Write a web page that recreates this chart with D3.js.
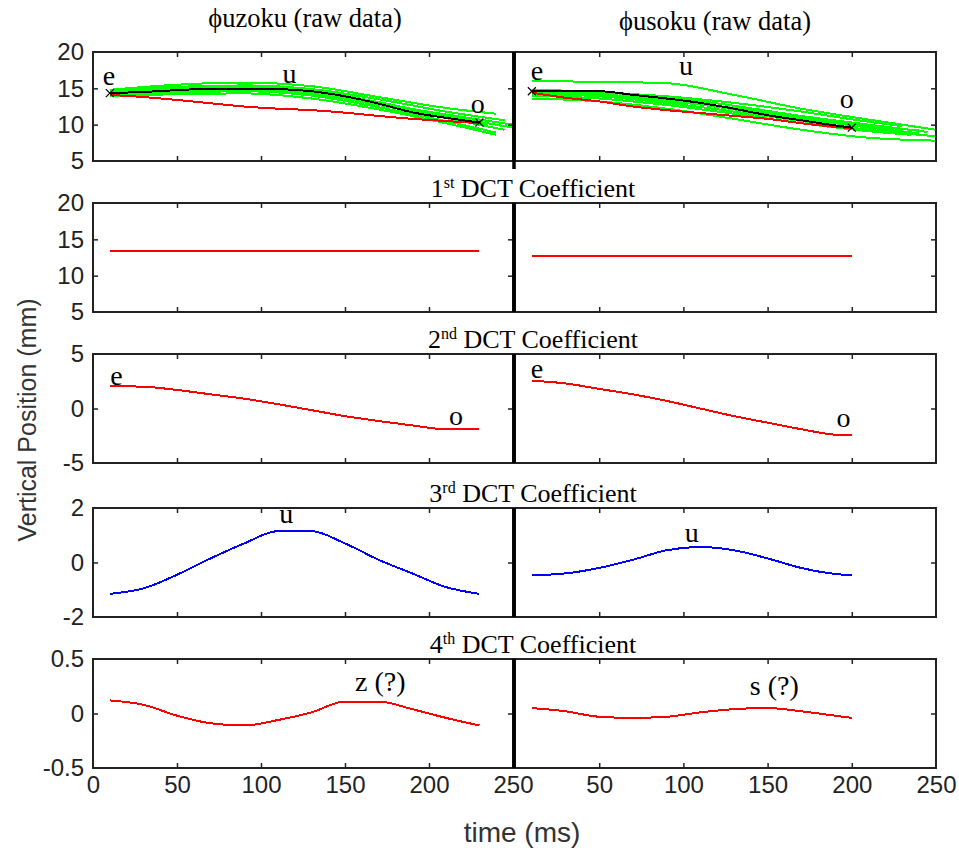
<!DOCTYPE html>
<html>
<head>
<meta charset="utf-8">
<script src="https://cdn.jsdelivr.net/npm/d3@7"></script>
<style>
  body { margin: 0; background: #fff; }
  svg { display: block; }
</style>
</head>
<body>
<script>
// --- datos: tiempos (ms) ---
const tUzoku = [10, 30, 50, 70, 90, 110, 130, 150, 170, 190, 210, 230];
const tUsoku = [10, 30, 50, 70, 90, 110, 130, 150, 170, 190, 200];
const tTrial = [10, 50, 90, 130, 170, 210];

// raw data, media (negro) y reconstruccion (rojo)
const uzokuMean = [14.35, 14.5, 14.75, 14.95, 14.95, 14.9, 14.6, 13.9, 12.9, 11.7, 10.95, 10.3];
const uzokuRecon = [14.1, 13.8, 13.4, 12.95, 12.5, 12.2, 12.0, 11.65, 11.2, 10.8, 10.5, 10.2];
const usokuMean = [14.6, 14.6, 14.6, 14.1, 13.6, 13.0, 12.2, 11.3, 10.6, 9.9, 9.6];
const usokuRecon = [14.4, 13.7, 13.2, 12.5, 12.0, 11.6, 11.2, 10.8, 10.2, 9.7, 9.5];

// ensayos individuales (verde): valores en tTrial + punto final [t, v]
const uzokuTrials = [
  { v: [14.8, 15.5, 15.8, 15.3, 13.8, 12.3], end: [240, 11.5] },
  { v: [14.6, 15.2, 15.4, 14.9, 13.5, 11.8], end: [245, 10.6] },
  { v: [14.4, 15.0, 15.2, 14.7, 13.1, 11.2], end: [250, 9.6] },
  { v: [14.2, 14.7, 14.9, 14.3, 12.7, 10.9], end: [245, 9.3] },
  { v: [14.0, 14.4, 14.6, 14.0, 12.4, 10.5], end: [240, 8.9] },
  { v: [13.9, 14.2, 14.3, 13.6, 12.1, 10.2], end: [240, 8.6] },
  { v: [14.5, 14.9, 15.0, 14.5, 13.0, 11.0], end: [235, 10.0] },
  { v: [14.3, 14.6, 14.8, 14.2, 12.9, 11.4], end: [250, 10.0] }
];
const usokuTrials = [
  { v: [16.0, 15.9, 15.7, 14.1, 12.2, 10.7], end: [250, 9.3] },
  { v: [14.8, 14.5, 13.8, 12.6, 11.2, 10.0], end: [245, 9.0] },
  { v: [14.5, 14.2, 13.4, 12.1, 10.8, 9.6], end: [240, 8.8] },
  { v: [14.2, 13.9, 13.0, 11.8, 10.5, 9.3], end: [250, 8.4] },
  { v: [14.0, 13.6, 12.7, 11.5, 10.2, 9.1], end: [235, 8.6] },
  { v: [13.6, 13.2, 12.2, 10.8, 9.3, 8.2], end: [250, 7.8] },
  { v: [14.6, 14.4, 13.9, 13.0, 11.8, 10.4], end: [230, 9.8] },
  { v: [14.4, 14.0, 13.2, 12.3, 11.0, 9.8], end: [240, 9.2] }
];

// coeficientes DCT
const uzokuDct1 = [13.45, 13.45];
const usokuDct1 = [12.67, 12.67];
const uzokuDct2 = [2.05, 2.0, 1.7, 1.3, 0.9, 0.4, -0.15, -0.7, -1.15, -1.55, -1.9, -1.9];
const usokuDct2 = [2.55, 2.3, 1.8, 1.3, 0.7, 0.0, -0.7, -1.3, -1.9, -2.4, -2.45];
const uzokuDct3 = [-1.15, -0.95, -0.45, 0.15, 0.7, 1.15, 1.15, 0.7, 0.1, -0.4, -0.9, -1.15];
const usokuDct3 = [-0.47, -0.4, -0.2, 0.1, 0.45, 0.57, 0.45, 0.15, -0.2, -0.42, -0.47];
const uzokuDct4 = [0.12, 0.08, -0.02, -0.09, -0.11, -0.06, 0.01, 0.11, 0.11, 0.04, -0.04, -0.11];
const usokuDct4 = [0.05, 0.02, -0.03, -0.04, -0.03, 0.01, 0.04, 0.05, 0.02, -0.02, -0.04];

// ejes
const xTicks = [0, 50, 100, 150, 200, 250];
const yDomains = [[5, 20], [5, 20], [-5, 5], [-2, 2], [-0.5, 0.5]];
const yTicks = [[5, 10, 15, 20], [5, 10, 15, 20], [-5, 0, 5], [-2, 0, 2], [-0.5, 0, 0.5]];
const rowTitles = [null, ["1", "st"], ["2", "nd"], ["3", "rd"], ["4", "th"]];
const colTitles = ["\u03D5uzoku (raw data)", "\u03D5usoku (raw data)"];

// anotaciones [fila, columna, t, v, texto]
const notes = [
  [0, 0, 9.5, 15.45, "e"], [0, 0, 117, 15.7, "u"], [0, 0, 229, 11.6, "o"],
  [0, 1, 13, 16.15, "e"], [0, 1, 101.5, 16.8, "u"], [0, 1, 197, 12.3, "o"],
  [2, 0, 14, 2.15, "e"], [2, 0, 216, -1.5, "o"],
  [2, 1, 13, 2.8, "e"], [2, 1, 195, -1.7, "o"],
  [3, 0, 115, 1.45, "u"], [3, 1, 105, 0.75, "u"],
  [4, 0, 171, 0.21, "z (?)"], [4, 1, 154, 0.17, "s (?)"]
];

// --- layout ---
let width = 959, height = 848;
let colRanges = [[93, 513], [515, 936]];
let rowTops = [52, 203, 354, 508, 659];
let rowH = 109;
let sans = "'Liberation Sans', Arial, sans-serif";
let serif = "'Liberation Serif', 'Times New Roman', serif";

let svg = d3.select("body").append("svg")
  .attr("width", width)
  .attr("height", height);

let xScales = colRanges.map(r => d3.scaleLinear().domain([0, 250]).range(r));
let yScales = rowTops.map((top, i) => d3.scaleLinear().domain(yDomains[i]).range([top + rowH, top]));

// series por fila y columna
function seriesFor(row, col) {
  let t = col === 0 ? tUzoku : tUsoku;
  let tEnd = t[t.length - 1];
  if (row === 0) {
    let trials = col === 0 ? uzokuTrials : usokuTrials;
    let out = trials.map(tr => ({
      pts: d3.zip(tTrial, tr.v).concat([tr.end]), color: "#00ff00"
    }));
    out.push({ pts: d3.zip(t, col === 0 ? uzokuRecon : usokuRecon), color: "#ff0000" });
    out.push({ pts: d3.zip(t, col === 0 ? uzokuMean : usokuMean), color: "#000000", marks: true });
    return out;
  }
  if (row === 1) return [{ pts: d3.zip([t[0], tEnd], col === 0 ? uzokuDct1 : usokuDct1), color: "#ff0000" }];
  if (row === 2) return [{ pts: d3.zip(t, col === 0 ? uzokuDct2 : usokuDct2), color: "#ff0000" }];
  if (row === 3) return [{ pts: d3.zip(t, col === 0 ? uzokuDct3 : usokuDct3), color: "#0000ff" }];
  return [{ pts: d3.zip(t, col === 0 ? uzokuDct4 : usokuDct4), color: "#ff0000" }];
}

rowTops.forEach((top, row) => {
  let y = yScales[row];
  colRanges.forEach((rng, col) => {
    let x = xScales[col];
    let g = svg.append("g");

    // lineas (suavizadas, con bordes nitidos para el efecto escalonado)
    let line = d3.line().curve(d3.curveMonotoneX).x(d => x(d[0])).y(d => y(d[1]));
    seriesFor(row, col).forEach(s => {
      g.append("path")
        .attr("d", line(s.pts))
        .attr("fill", "none")
        .attr("stroke", s.color)
        .attr("stroke-width", 2)
        .attr("shape-rendering", "crispEdges");
      if (s.marks) {
        [s.pts[0], s.pts[s.pts.length - 1]].forEach(p => {
          let cx = x(p[0]), cy = y(p[1]);
          g.append("path")
            .attr("d", `M${cx - 4},${cy - 4}L${cx + 4},${cy + 4}M${cx - 4},${cy + 4}L${cx + 4},${cy - 4}`)
            .attr("stroke", "#000")
            .attr("stroke-width", 1.2);
        });
      }
    });

    // ticks hacia dentro
    let inner = xTicks.slice(1, -1);
    let axB = d3.axisBottom(x).tickValues(row === 4 ? (col === 0 ? xTicks : xTicks.slice(1)) : inner)
      .tickSize(-5).tickPadding(8);
    if (row !== 4) axB.tickFormat("");
    let gb = g.append("g").attr("transform", `translate(0,${top + rowH})`).call(axB);
    if (row === 4) gb.selectAll(".tick line").filter(d => d === 0 || d === 250).remove();
    g.append("g").attr("transform", `translate(0,${top})`)
      .call(d3.axisTop(x).tickValues(inner).tickSize(-5).tickFormat(""));
    g.append("g").attr("transform", `translate(${rng[1]},0)`)
      .call(d3.axisRight(y).tickValues(yTicks[row].slice(1, -1)).tickSize(-5).tickFormat(""));
    if (col === 0) {
      let ga = g.append("g").attr("transform", `translate(${rng[0]},0)`)
        .call(d3.axisLeft(y).tickValues(yTicks[row]).tickSize(-5).tickPadding(9).tickFormat(d => String(d)));
      ga.selectAll(".tick line").filter(d => d === yTicks[row][0] || d === yTicks[row][yTicks[row].length - 1]).remove();
    }
    g.selectAll(".domain").remove();
    g.selectAll(".tick line").attr("stroke", "#222").attr("stroke-width", 1.5);
    g.selectAll(".tick text")
      .attr("font-family", sans)
      .attr("font-size", 24)
      .attr("fill", "#222");

    // marco
    g.append("rect")
      .attr("x", rng[0]).attr("y", top)
      .attr("width", rng[1] - rng[0]).attr("height", rowH)
      .attr("fill", "none")
      .attr("stroke", "#222")
      .attr("stroke-width", 2)
      .attr("shape-rendering", "crispEdges");
  });

  // separador grueso entre columnas
  svg.append("line")
    .attr("x1", 514).attr("x2", 514)
    .attr("y1", top).attr("y2", top + rowH + (row === 0 ? 8 : 0))
    .attr("stroke", "#000")
    .attr("stroke-width", 3.5);

  // titulo de fila
  if (rowTitles[row]) {
    let tt = svg.append("text")
      .attr("x", 533).attr("y", top - 6)
      .attr("text-anchor", "middle")
      .attr("font-family", serif)
      .attr("font-size", 26)
      .attr("fill", "#000");
    tt.append("tspan").text(rowTitles[row][0]);
    tt.append("tspan").attr("dy", -9).attr("font-size", 16).text(rowTitles[row][1]);
    tt.append("tspan").attr("dy", 9).text(" DCT Coefficient");
  }
});

// anotaciones
notes.forEach(n => {
  svg.append("text")
    .attr("x", xScales[n[1]](n[2]))
    .attr("y", yScales[n[0]](n[3]))
    .attr("text-anchor", "middle")
    .attr("font-family", serif)
    .attr("font-size", 28)
    .attr("fill", "#000")
    .text(n[4]);
});

// titulos de columna
svg.append("text").attr("x", 305).attr("y", 27)
  .attr("text-anchor", "middle").attr("font-family", serif).attr("font-size", 26.5)
  .text(colTitles[0]);
svg.append("text").attr("x", 715).attr("y", 30)
  .attr("text-anchor", "middle").attr("font-family", serif).attr("font-size", 26.5)
  .text(colTitles[1]);

// etiquetas de ejes
svg.append("text")
  .attr("transform", "translate(36,420) rotate(-90)")
  .attr("text-anchor", "middle")
  .attr("font-family", sans)
  .attr("font-size", 25)
  .attr("fill", "#333")
  .text("Vertical Position (mm)");
svg.append("text")
  .attr("x", 522).attr("y", 842)
  .attr("text-anchor", "middle")
  .attr("font-family", sans)
  .attr("font-size", 28)
  .attr("fill", "#333")
  .text("time (ms)");
</script>
</body>
</html>
